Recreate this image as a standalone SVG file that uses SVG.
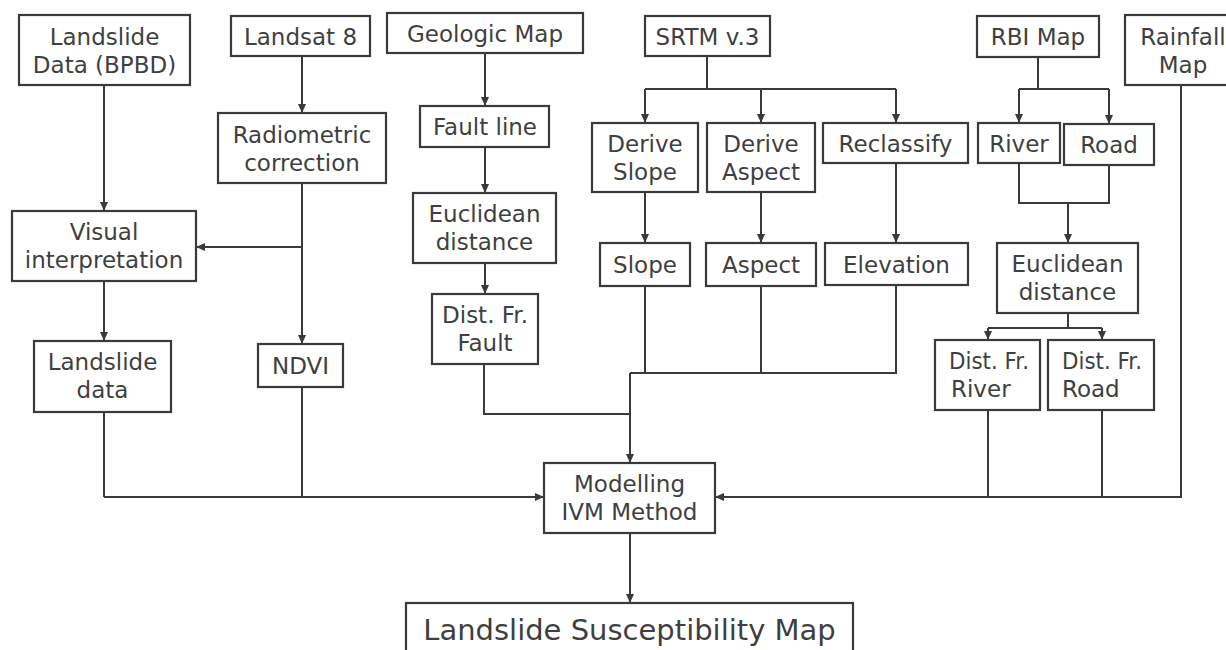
<svg xmlns="http://www.w3.org/2000/svg" width="1226" height="650" viewBox="0 0 1226 650">
<style>
.box{fill:#fff;stroke:#3a3a3a;stroke-width:2.2}
.t{font-family:"DejaVu Sans","Liberation Sans",sans-serif;font-size:23px;fill:#3f3f3f;text-anchor:middle}
.tl{font-family:"DejaVu Sans","Liberation Sans",sans-serif;font-size:23px;fill:#3f3f3f}
.big{font-family:"DejaVu Sans","Liberation Sans",sans-serif;font-size:29px;fill:#3f3f3f;text-anchor:middle}
.c{fill:none;stroke:#3a3a3a;stroke-width:2}
</style>
<defs>
<marker id="ah" markerUnits="userSpaceOnUse" markerWidth="10" markerHeight="10" viewBox="0 0 10 10" refX="9" refY="5" orient="auto">
<path d="M0,1 L9,5 L0,9 Z" fill="#3a3a3a"/>
</marker>
</defs>
<rect width="1226" height="650" fill="#fff"/>
<g id="connectors">
<path class="c" d="M104,85 V211" marker-end="url(#ah)"/>
<path class="c" d="M302,56 V113" marker-end="url(#ah)"/>
<path class="c" d="M302,183 V344" marker-end="url(#ah)"/>
<path class="c" d="M302,247 H196" marker-end="url(#ah)"/>
<path class="c" d="M104,281 V341" marker-end="url(#ah)"/>
<path class="c" d="M485,53 V106" marker-end="url(#ah)"/>
<path class="c" d="M485,147 V193" marker-end="url(#ah)"/>
<path class="c" d="M485,263 V294" marker-end="url(#ah)"/>
<path class="c" d="M707,56 V89 M645,89 H896"/>
<path class="c" d="M645,89 V123" marker-end="url(#ah)"/>
<path class="c" d="M761,89 V123" marker-end="url(#ah)"/>
<path class="c" d="M896,89 V123" marker-end="url(#ah)"/>
<path class="c" d="M645,192 V243" marker-end="url(#ah)"/>
<path class="c" d="M761,192 V243" marker-end="url(#ah)"/>
<path class="c" d="M896,163 V243" marker-end="url(#ah)"/>
<path class="c" d="M1038,57 V89 M1019,89 H1109"/>
<path class="c" d="M1019,89 V123" marker-end="url(#ah)"/>
<path class="c" d="M1109,89 V124" marker-end="url(#ah)"/>
<path class="c" d="M1019,163 V203 H1109 V165"/>
<path class="c" d="M1068,203 V243" marker-end="url(#ah)"/>
<path class="c" d="M1068,313 V328 M988,328 H1102"/>
<path class="c" d="M988,328 V340" marker-end="url(#ah)"/>
<path class="c" d="M1102,328 V340" marker-end="url(#ah)"/>
<path class="c" d="M645,286 V373 M761,286 V373 M896,285 V373 H630"/>
<path class="c" d="M484,364 V414 H630"/>
<path class="c" d="M630,373 V463" marker-end="url(#ah)"/>
<path class="c" d="M104,412 V497 M302,387 V497"/>
<path class="c" d="M104,497 H544" marker-end="url(#ah)"/>
<path class="c" d="M988,410 V497 M1102,410 V497"/>
<path class="c" d="M1181,85 V497 H715" marker-end="url(#ah)"/>
<path class="c" d="M630,533 V603" marker-end="url(#ah)"/>
</g>
<g id="n_bpbd"><rect class="box" x="19" y="15" width="171" height="70"/><text class="t" x="104.5" y="45">Landslide</text><text class="t" x="104.5" y="73">Data (BPBD)</text></g>
<g id="n_landsat"><rect class="box" x="231" y="16" width="139" height="40"/><text class="t" x="300.5" y="45">Landsat 8</text></g>
<g id="n_geologic"><rect class="box" x="387" y="13" width="196" height="40"/><text class="t" x="485" y="42">Geologic Map</text></g>
<g id="n_srtm"><rect class="box" x="645" y="16" width="125" height="40"/><text class="t" x="707.5" y="45">SRTM v.3</text></g>
<g id="n_rbi"><rect class="box" x="977" y="16" width="122" height="41"/><text class="t" x="1038" y="45">RBI Map</text></g>
<g id="n_rainfall"><rect class="box" x="1125" y="15" width="120" height="70"/><text class="t" x="1183" y="45">Rainfall</text><text class="t" x="1183" y="73">Map</text></g>
<g id="n_radiometric"><rect class="box" x="218" y="113" width="168" height="70"/><text class="t" x="302" y="143">Radiometric</text><text class="t" x="302" y="171">correction</text></g>
<g id="n_fault"><rect class="box" x="420" y="106" width="129" height="41"/><text class="t" x="485" y="135">Fault line</text></g>
<g id="n_dslope"><rect class="box" x="592" y="123" width="106" height="69"/><text class="t" x="645" y="152">Derive</text><text class="t" x="645" y="180">Slope</text></g>
<g id="n_daspect"><rect class="box" x="707" y="123" width="108" height="69"/><text class="t" x="761" y="152">Derive</text><text class="t" x="761" y="180">Aspect</text></g>
<g id="n_reclassify"><rect class="box" x="823" y="123" width="145" height="40"/><text class="t" x="895.5" y="152">Reclassify</text></g>
<g id="n_river"><rect class="box" x="978" y="123" width="82" height="40"/><text class="t" x="1019" y="152">River</text></g>
<g id="n_road"><rect class="box" x="1064" y="124" width="90" height="41"/><text class="t" x="1109" y="153">Road</text></g>
<g id="n_visual"><rect class="box" x="12" y="211" width="184" height="70"/><text class="t" x="104" y="240">Visual</text><text class="t" x="104" y="268">interpretation</text></g>
<g id="n_eucl1"><rect class="box" x="413" y="193" width="143" height="70"/><text class="t" x="484.5" y="222">Euclidean</text><text class="t" x="484.5" y="250">distance</text></g>
<g id="n_slope"><rect class="box" x="600" y="243" width="90" height="43"/><text class="t" x="645" y="273">Slope</text></g>
<g id="n_aspect"><rect class="box" x="706" y="243" width="110" height="43"/><text class="t" x="761" y="273">Aspect</text></g>
<g id="n_elevation"><rect class="box" x="825" y="243" width="143" height="42"/><text class="t" x="896.5" y="273">Elevation</text></g>
<g id="n_eucl2"><rect class="box" x="997" y="243" width="141" height="70"/><text class="t" x="1067.5" y="272">Euclidean</text><text class="t" x="1067.5" y="300">distance</text></g>
<g id="n_dfault"><rect class="box" x="432" y="294" width="106" height="70"/><text class="t" x="485" y="323">Dist. Fr.</text><text class="t" x="485" y="351">Fault</text></g>
<g id="n_ldata"><rect class="box" x="34" y="341" width="137" height="71"/><text class="t" x="102.5" y="370">Landslide</text><text class="t" x="102.5" y="398">data</text></g>
<g id="n_ndvi"><rect class="box" x="258" y="344" width="85" height="43"/><text class="t" x="300.5" y="374">NDVI</text></g>
<g id="n_driver"><rect class="box" x="935" y="340" width="105" height="70"/><text class="tl" x="949" y="369" textLength="80" lengthAdjust="spacingAndGlyphs">Dist. Fr.</text><text class="tl" x="951" y="397">River</text></g>
<g id="n_droad"><rect class="box" x="1048" y="340" width="106" height="70"/><text class="tl" x="1062" y="369" textLength="80" lengthAdjust="spacingAndGlyphs">Dist. Fr.</text><text class="tl" x="1062" y="397">Road</text></g>
<g id="n_modelling"><rect class="box" x="544" y="463" width="171" height="70"/><text class="t" x="629.5" y="492">Modelling</text><text class="t" x="629.5" y="520">IVM Method</text></g>
<g id="n_map"><rect class="box" x="406" y="603" width="447" height="60"/><text class="big" x="629.5" y="640">Landslide Susceptibility Map</text></g>
</svg>
